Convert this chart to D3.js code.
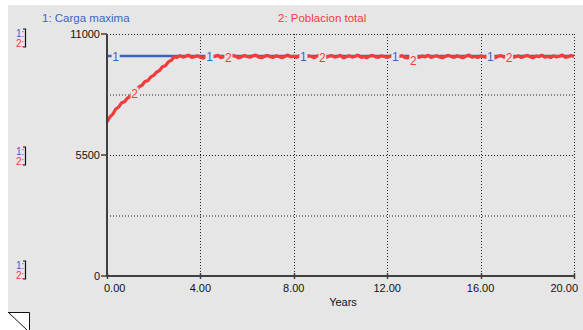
<!DOCTYPE html>
<html>
<head>
  <meta charset="utf-8">
  <title>Carga maxima / Poblacion total</title>
  <script src="https://cdnjs.cloudflare.com/ajax/libs/d3/7.8.5/d3.min.js"></script>
  <style>
    body { margin: 0; background: #fff; }
    svg text { font-family: "Liberation Sans", Arial, sans-serif; }
  </style>
</head>
<body>
<div id="chart"></div>
<script>
// simulation output, dt = 0.125 years
var timeStep = 0.125;
var cargaMaxima = 10000;
var poblacionTotal = [
  7000,7230,7360,7590,7680,7870,7920,8090,8170,8350,8430,8600,8670,8840,8880,9050,
  9120,9270,9340,9510,9560,9730,9800,9960,9930,
  10020,9950,9990,10040,9930,9970,10010,9940,9900,9990,10030,9960,9980,10040,9920,9970,
  10000,9950,10030,9990,9910,9960,10020,9980,9940,10010,10040,9950,9920,9990,10030,9960,
  9940,10010,9970,9920,9990,10040,9960,9990,9930,10020,9970,9940,10010,9980,9920,10000,
  10040,9960,9930,9990,10020,9950,9980,10030,9910,9970,10010,9950,9990,10040,9940,9970,
  9920,10000,10030,9960,9940,10010,9980,9930,9990,10040,9950,9970,10020,9940,9910,9990,
  10030,9970,9940,10000,9960,10040,9930,9980,10010,9950,9920,9990,10030,9970,9940,10010,
  9960,9920,10000,10040,9950,9980,9930,10010,9970,9940,10030,9960,9910,9990,10020,9950,
  9980,10040,9940,9970,10010,9930,9990,10030,9960,9920,10000,9970,10040,9950,9980,9930,
  10010,9960,9990,10040,9940,9970,10020,9990
];
var xTicks = [0, 4, 8, 12, 16, 20];
var yTicks = [0, 5500, 11000];
var yGrid = [2750, 5500, 8250, 11000];
var label1T = [0.35, 4.37, 8.39, 12.33, 16.4];
var label2T = [1.16, 5.18, 9.2, 13.1, 17.2];

var W = 583, H = 330;
var bg = "#e6e6e6", blue = "#3c64c3", red = "#f23c3c", axisCol = "#404040";

var svg = d3.select("#chart").append("svg")
  .attr("width", W).attr("height", H);

svg.append("rect").attr("x", 8).attr("y", 5)
  .attr("width", W - 8).attr("height", H - 5).attr("fill", bg);

var x = d3.scaleLinear().domain([0, 20]).range([107, 574]);
var y = d3.scaleLinear().domain([0, 11000]).range([276, 34]);

var data = poblacionTotal.map(function(v, i) { return {t: i * timeStep, v: v}; });

// grid
svg.selectAll(".hgrid").data(yGrid).enter().append("line")
  .attr("x1", x(0)).attr("x2", x(20))
  .attr("y1", function(d) { return y(d) + 0.5; })
  .attr("y2", function(d) { return y(d) + 0.5; })
  .attr("stroke", "#222").attr("stroke-width", 1).attr("stroke-dasharray", "1,2");
svg.selectAll(".vgrid").data(xTicks.slice(1)).enter().append("line")
  .attr("x1", function(d) { return Math.round(x(d)) + 0.5; })
  .attr("x2", function(d) { return Math.round(x(d)) + 0.5; })
  .attr("y1", y(11000)).attr("y2", y(0))
  .attr("stroke", "#222").attr("stroke-width", 1).attr("stroke-dasharray", "1,2");

// series
var line = d3.line().x(function(d) { return x(d.t); }).y(function(d) { return y(d.v); });

svg.append("line")
  .attr("x1", x(0)).attr("x2", x(20))
  .attr("y1", y(cargaMaxima)).attr("y2", y(cargaMaxima))
  .attr("stroke", blue).attr("stroke-width", 2.5);

svg.append("path").datum(data)
  .attr("d", line).attr("fill", "none")
  .attr("stroke", red).attr("stroke-width", 3.2).attr("stroke-linejoin", "bevel");

function valueAt(t) {
  var i = Math.min(poblacionTotal.length - 1, Math.round(t / timeStep));
  return poblacionTotal[i];
}

function addLabel(t, v, txt, col, dy) {
  var g = svg.append("g").attr("transform", "translate(" + x(t) + "," + (y(v) + dy) + ")");
  g.append("rect").attr("x", -3.5).attr("y", -6).attr("width", 8).attr("height", 12).attr("fill", bg);
  g.append("text").attr("x", 0.5).attr("y", 4.5).attr("text-anchor", "middle")
    .attr("font-size", 12).attr("fill", col).text(txt);
}
label1T.forEach(function(t) { addLabel(t, cargaMaxima, "1", blue, 0); });
label2T.forEach(function(t, i) { addLabel(t, i === 0 ? valueAt(t) : cargaMaxima, "2", red, i === 3 ? 4 : 1); });

// axes
svg.append("line").attr("x1", x(0)).attr("x2", x(0))
  .attr("y1", y(11000)).attr("y2", y(0) + 1)
  .attr("stroke", axisCol).attr("stroke-width", 2);
svg.append("line").attr("x1", x(0) - 1).attr("x2", x(20) + 1)
  .attr("y1", y(0)).attr("y2", y(0))
  .attr("stroke", axisCol).attr("stroke-width", 2);

svg.selectAll(".yt").data(yTicks).enter().append("line")
  .attr("x1", x(0) - 6).attr("x2", x(0))
  .attr("y1", function(d) { return y(d); }).attr("y2", function(d) { return y(d); })
  .attr("stroke", axisCol).attr("stroke-width", 1.5);
svg.selectAll(".yl").data(yTicks).enter().append("text")
  .attr("x", x(0) - 7).attr("y", function(d) { return y(d) + 4; })
  .attr("text-anchor", "end").attr("font-size", 11).attr("fill", "#111")
  .text(function(d) { return d; });

svg.selectAll(".xt").data(xTicks).enter().append("line")
  .attr("x1", function(d) { return Math.round(x(d)) + 0.5; })
  .attr("x2", function(d) { return Math.round(x(d)) + 0.5; })
  .attr("y1", y(0) - 3).attr("y2", y(0) + 3)
  .attr("stroke", axisCol).attr("stroke-width", 1.5);
svg.selectAll(".xl").data(xTicks).enter().append("text")
  .attr("x", function(d, i) { return i === 0 ? x(d) - 3 : (i === xTicks.length - 1 ? x(d) + 4 : x(d)); })
  .attr("y", y(0) + 16)
  .attr("text-anchor", function(d, i) { return i === 0 ? "start" : (i === xTicks.length - 1 ? "end" : "middle"); })
  .attr("font-size", 11).attr("fill", "#111")
  .text(function(d) { return d3.format(".2f")(d); });

svg.append("text").attr("x", 343).attr("y", 306).attr("text-anchor", "middle")
  .attr("font-size", 11).attr("fill", "#111").text("Years");

// legend
svg.append("text").attr("x", 42).attr("y", 22).attr("font-size", 11.5)
  .attr("fill", blue).text("1: Carga maxima");
svg.append("text").attr("x", 278).attr("y", 22).attr("font-size", 11.5)
  .attr("fill", red).text("2: Poblacion total");

// left scale markers
[38, 156, 270].forEach(function(cy) {
  svg.append("text").attr("x", 16).attr("y", cy - 1.5).attr("font-size", 10).attr("fill", blue).text("1:");
  svg.append("text").attr("x", 16).attr("y", cy + 9).attr("font-size", 10).attr("fill", red).text("2:");
  svg.append("path").attr("d", "M23," + (cy - 9) + "H25.5V" + (cy + 9) + "H23")
    .attr("fill", "none").attr("stroke", "#111").attr("stroke-width", 1.2);
});

// page corner
svg.append("rect").attr("x", 8).attr("y", 312).attr("width", 22).attr("height", 20).attr("fill", "#fff");
svg.append("path").attr("d", "M8,312.5H29.5V330").attr("fill", "none").attr("stroke", "#111").attr("stroke-width", 1);
svg.append("line").attr("x1", 9).attr("y1", 313).attr("x2", 27).attr("y2", 330)
  .attr("stroke", "#111").attr("stroke-width", 1);
</script>
</body>
</html>
